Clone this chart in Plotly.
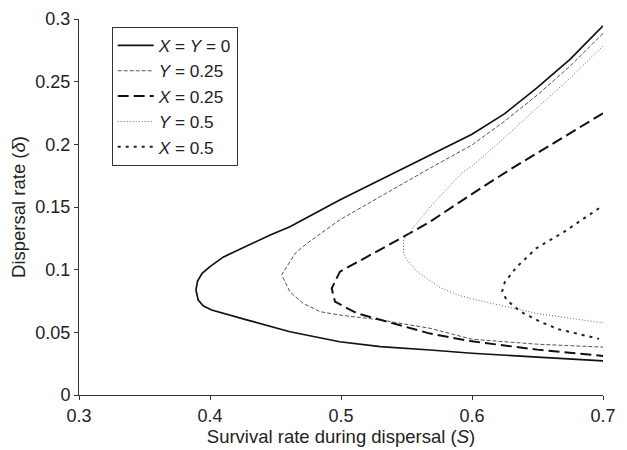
import plotly.graph_objects as go

# ---- data ----
S_xy0 = [0.70, 0.675, 0.65, 0.625, 0.60, 0.568, 0.53, 0.499, 0.461, 0.446, 0.41, 0.40, 0.394, 0.3905, 0.3893,
         0.391, 0.395, 0.4013, 0.428, 0.461, 0.499, 0.53, 0.568, 0.60, 0.65, 0.70]
d_xy0 = [0.2945, 0.268, 0.2455, 0.2245, 0.208, 0.1915, 0.172, 0.1556, 0.1343, 0.1277, 0.110, 0.1024, 0.097, 0.091, 0.0838,
         0.0758, 0.071, 0.0678, 0.0599, 0.0505, 0.0425, 0.0386, 0.0359, 0.0333, 0.0302, 0.0273]

S_y025 = [0.70, 0.675, 0.65, 0.625, 0.60, 0.568, 0.53, 0.499, 0.474, 0.465, 0.4547,
          0.461, 0.471, 0.484, 0.499, 0.53, 0.568, 0.60, 0.65, 0.70]
d_y025 = [0.2885, 0.2625, 0.2395, 0.2185, 0.1995, 0.181, 0.1583, 0.1397, 0.121, 0.113, 0.0958,
          0.0824, 0.0732, 0.0665, 0.0638, 0.0599, 0.0532, 0.0445, 0.0405, 0.0382]

S_x025 = [0.70, 0.665, 0.63, 0.606, 0.568, 0.5502, 0.5196, 0.4992, 0.4929,
          0.4954, 0.512, 0.5349, 0.568, 0.60, 0.65, 0.70]
d_x025 = [0.2248, 0.2025, 0.1805, 0.1645, 0.1383, 0.1277, 0.110, 0.0984, 0.0851,
          0.0745, 0.0652, 0.0585, 0.049, 0.0428, 0.0362, 0.0312]

S_y05 = [0.70, 0.675, 0.65, 0.625, 0.60, 0.593, 0.568, 0.558, 0.5476, 0.5478, 0.5505,
         0.558, 0.568, 0.5756, 0.59, 0.606, 0.65, 0.70]
d_y05 = [0.2785, 0.253, 0.2295, 0.2055, 0.1825, 0.178, 0.150, 0.137, 0.1237, 0.113, 0.1077,
         0.0985, 0.091, 0.0858, 0.0795, 0.0752, 0.065, 0.0575]

S_x05 = [0.697, 0.670, 0.649, 0.634, 0.625, 0.623,
         0.6265, 0.637, 0.652, 0.666, 0.697]
d_x05 = [0.149, 0.130, 0.117, 0.102, 0.090, 0.0825,
         0.0758, 0.0665, 0.0585, 0.0525, 0.0448]

names = ["<i>X</i> = <i>Y</i> = 0", "<i>Y</i> = 0.25", "<i>X</i> = 0.25",
         "<i>Y</i> = 0.5", "<i>X</i> = 0.5"]

x_ticks = [0.3, 0.4, 0.5, 0.6, 0.7]
y_ticks = [0, 0.05, 0.1, 0.15, 0.2, 0.25, 0.3]

styles = [
    dict(color="#111111", width=1.7, dash="solid"),
    dict(color="#555555", width=1.0, dash="4px,2px"),
    dict(color="#111111", width=2.0, dash="11px,5px"),
    dict(color="#666666", width=1.0, dash="1px,2px"),
    dict(color="#222222", width=2.0, dash="3px,5px"),
]

series = [(S_xy0, d_xy0), (S_y025, d_y025), (S_x025, d_x025), (S_y05, d_y05), (S_x05, d_x05)]

fig = go.Figure()
for (sx, sy), nm, st in zip(series, names, styles):
    fig.add_trace(go.Scatter(x=sx, y=sy, mode="lines", name=nm, line=st))

# The page body has an 8px default margin, so the figure is sized to fill the
# remaining 619x442 of the 627x450 window.
font_family = "Liberation Sans, Arial, sans-serif"
fig.update_layout(
    width=619, height=442,
    margin=dict(l=71, r=24, t=11, b=55, autoexpand=False),
    paper_bgcolor="white", plot_bgcolor="white",
    font=dict(family=font_family, size=18, color="#222222"),
    showlegend=True,
    legend=dict(x=0.0624, y=0.9795, xanchor="left", yanchor="top",
                bordercolor="#333333", borderwidth=1, bgcolor="white",
                itemwidth=36, font=dict(size=17.2)),
    xaxis=dict(range=[0.3, 0.7], tickvals=x_ticks, ticktext=[str(v) for v in x_ticks],
               showgrid=False, zeroline=False, showline=True, linecolor="#333333",
               ticks="outside", ticklen=4, tickcolor="#333333", automargin=False,
               title=dict(text="Survival rate during dispersal (<i>S</i>)", standoff=1,
                          font=dict(size=18.5))),
    yaxis=dict(range=[0, 0.3], tickvals=y_ticks, ticktext=[str(v) for v in y_ticks],
               showgrid=False, zeroline=False, showline=True, linecolor="#333333",
               ticks="outside", ticklen=4, tickcolor="#333333", automargin=False,
               title=dict(text="Dispersal rate (<i>δ</i>)", standoff=14,
                          font=dict(size=18.5))),
)

fig.write_html("out.html")
